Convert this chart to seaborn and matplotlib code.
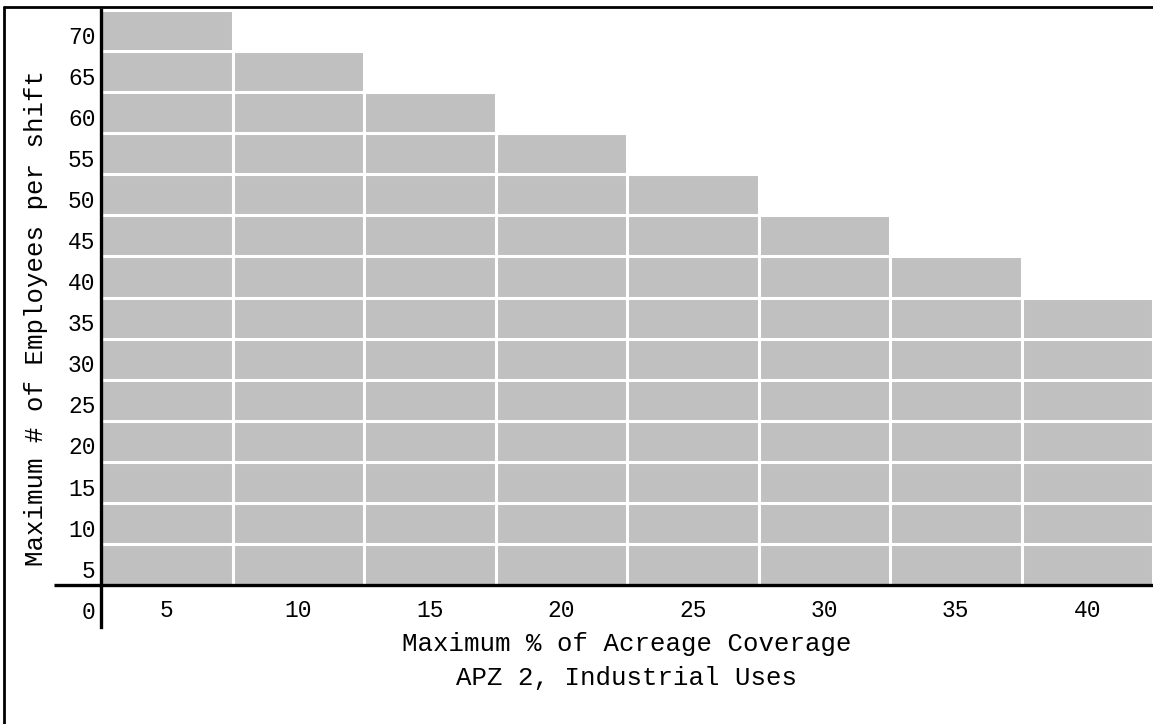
import numpy as np
import pandas as pd
import matplotlib
matplotlib.use("Agg")
import matplotlib.pyplot as plt
import matplotlib.transforms as mtransforms
from matplotlib.lines import Line2D
import seaborn as sns

# ---- data ----
coverage = [5, 10, 15, 20, 25, 30, 35, 40]          # Maximum % of acreage coverage
employees = [70, 65, 60, 55, 50, 45, 40, 35]        # Maximum # of employees per shift
y_tick_values = [0, 5, 10, 15, 20, 25, 30, 35, 40, 45, 50, 55, 60, 65, 70]

sns.set_theme(style="white")
plt.rcParams['font.family'] = ['Liberation Mono', 'DejaVu Sans Mono']

W, H = 1153, 724
fig = plt.figure(figsize=(W / 100, H / 100), dpi=100)
fig.patch.set_facecolor("white")

ax_left, ax_right = 101 / W, 1.0
ax_top, ax_bot = 1 - 10 / H, 1 - 627 / H
ax = fig.add_axes([ax_left, ax_bot, ax_right - ax_left, ax_top - ax_bot])
ax.set_facecolor("white")

df = pd.DataFrame({"coverage": [str(c) for c in coverage], "employees": employees})
sns.barplot(data=df, x="coverage", y="employees", color="#c0c0c0", saturation=1,
            width=1.0, edgecolor="white", linewidth=2.2, ax=ax, zorder=1)

for s in ["top", "right"]:
    ax.spines[s].set_visible(False)
ax.spines["bottom"].set_position(("data", 0))
ax.spines["left"].set_linewidth(2.4)
ax.spines["left"].set_color("black")
ax.spines["bottom"].set_linewidth(2.4)
ax.spines["bottom"].set_color("black")
ax.spines["left"].set_zorder(3)
ax.spines["bottom"].set_zorder(3)

# white horizontal separators every 5 units
for v in y_tick_values[1:-1]:
    ax.axhline(v, color="white", lw=2.2, zorder=1.5)

ax.set_xlim(-0.5, len(coverage) - 0.5)
ax.set_ylim(-5.1, 70)

# y ticks: labels sit inside each 5-unit cell
ax.set_yticks([v - 3 for v in y_tick_values])
ax.set_yticklabels([str(v) for v in y_tick_values], fontsize=16.5, color="black")
ax.tick_params(axis="y", length=0, pad=4)

ax.set_xticks(range(len(coverage)))
ax.set_xticklabels([str(c) for c in coverage], fontsize=16.5, color="black")
ax.tick_params(axis="x", length=0, pad=10)

# extend x-axis line to the left of the y axis
trans = mtransforms.blended_transform_factory(ax.transAxes, ax.transData)
ax.plot([-(101 - 54) / (W - 101), 0], [0, 0], color="black", lw=2.4,
        transform=trans, clip_on=False, zorder=3, solid_capstyle="butt")

ax.set_xlabel("Maximum % of Acreage Coverage\nAPZ 2, Industrial Uses",
              fontsize=18.5, color="black", linespacing=1.55)
ax.xaxis.set_label_coords(0.5, -(632 - 627) / 617)
ax.set_ylabel("Maximum # of Employees per shift", fontsize=18.5, color="black")
ax.yaxis.set_label_coords(-(101 - 48) / (W - 101), 0.5)

# figure frame (top and left border)
fig.add_artist(Line2D([4 / W, 1], [1 - 7 / H, 1 - 7 / H], transform=fig.transFigure,
                      color="black", lw=2))
fig.add_artist(Line2D([4 / W, 4 / W], [0, 1 - 7 / H], transform=fig.transFigure,
                      color="black", lw=2))

fig.savefig("out.png", dpi=100)
